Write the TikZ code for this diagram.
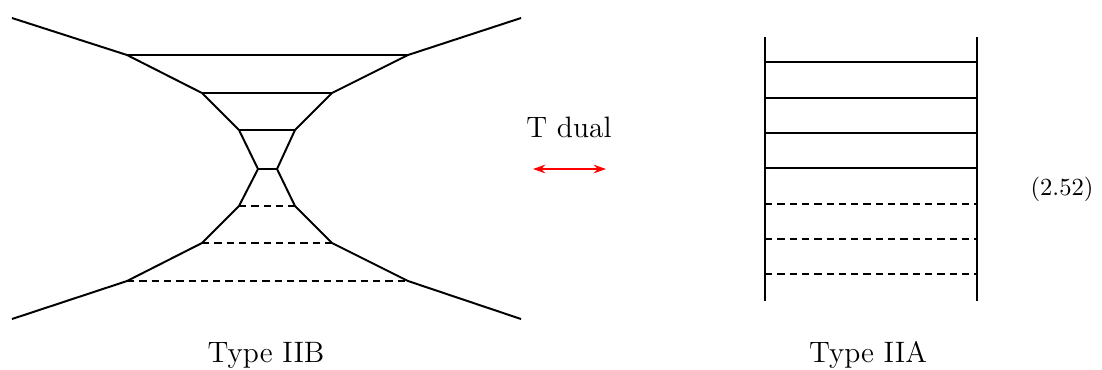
\documentclass[tikz,border=0pt]{standalone}
\usetikzlibrary{arrows.meta}
\begin{document}
\begin{tikzpicture}[x=0.4065pt,y=-0.4065pt,line width=0.8pt,line join=round,
  dsh/.style={dash pattern=on 3pt off 2pt},
  lbl/.style={font=\large,anchor=base},
  dualarr/.style={red,{Stealth[length=5pt,width=3.5pt]}-{Stealth[length=5pt,width=3.5pt]}}]
\useasboundingbox (0,0) rectangle (1102,369);
% IIB web
\coordinate (a1) at (12,18);   \coordinate (a2) at (521,18);
\coordinate (b1) at (127,55);  \coordinate (b2) at (408,55);
\coordinate (c1) at (202,93);  \coordinate (c2) at (332,93);
\coordinate (d1) at (239,130); \coordinate (d2) at (295,130);
\coordinate (e1) at (258,169); \coordinate (e2) at (277,169);
\coordinate (f1) at (239,206); \coordinate (f2) at (295,206);
\coordinate (g1) at (202,243); \coordinate (g2) at (332,243);
\coordinate (h1) at (127,281); \coordinate (h2) at (408,281);
\coordinate (k1) at (12,319);  \coordinate (k2) at (521,319);
\draw (a1)--(b1)--(c1)--(d1)--(e1)--(f1)--(g1)--(h1)--(k1);
\draw (a2)--(b2)--(c2)--(d2)--(e2)--(f2)--(g2)--(h2)--(k2);
\draw (b1)--(b2) (c1)--(c2) (d1)--(d2) (e1)--(e2);
\draw[dsh] (f1)--(f2) (g1)--(g2) (h1)--(h2);
% IIA ladder
\coordinate (t1) at (765,37); \coordinate (u1) at (765,301);
\coordinate (t2) at (977,37); \coordinate (u2) at (977,301);
\draw (t1)--(u1) (t2)--(u2);
\foreach \y in {62,98,133,168} \draw (765,\y)--(977,\y);
\foreach \y in {204,239,274} \draw[dsh] (765,\y)--(977,\y);
% T duality
\node[lbl] (td) at (569,137) {T dual};
\coordinate (al) at (533,169); \coordinate (ar) at (606,169);
\draw[dualarr] (al)--(ar);
\node[lbl] (iib) at (266,362) {Type IIB};
\node[lbl] (iia) at (868,362) {Type IIA};
\node[anchor=base] (eq) at (1062,195) {(2.52)};
\end{tikzpicture}
\end{document}
